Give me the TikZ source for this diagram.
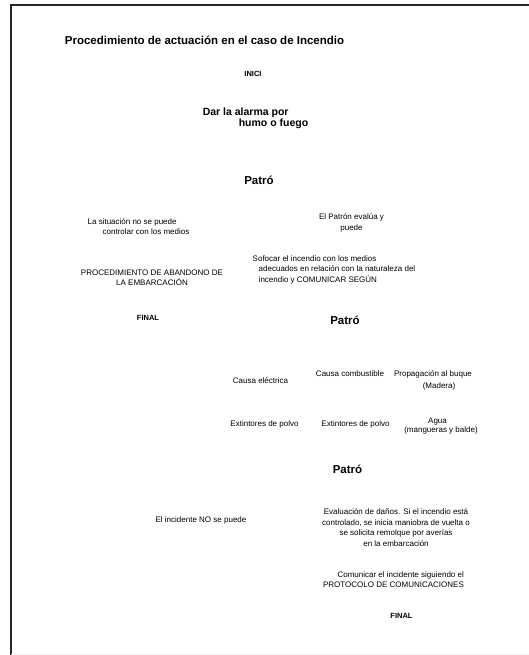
\documentclass[tikz,border=0pt]{standalone}
\usepackage{fontspec}
\setmainfont{Liberation Sans}

\begin{document}
\begin{tikzpicture}[x=1pt, y=-1pt,
	titulo/.style={font=\bfseries\fontsize{11.5}{13}\selectfont, inner sep=0pt},
	alarma/.style={font=\bfseries\fontsize{10.5}{11.5}\selectfont, inner sep=0pt},
	paso/.style={font=\fontsize{8}{10.5}\selectfont, inner sep=0pt},
	fin/.style={font=\bfseries\fontsize{7.5}{9}\selectfont, inner sep=0pt}]

	\def\W{529} % ancho de la hoja
	
	\def\H{655} % alto de la hoja
	
	\def\m{11} % margen izquierdo del marco
	
	\useasboundingbox (0, 0) rectangle (\W, \H);
	
	% marco
	\draw[line width=1.5pt, black!85] (\m, \H) -- (\m, 5) -- (\W, 5);
	\draw[gray!12] (\m, \H-1) -- (\W, \H-1);
	
	\node[titulo] (cabecera) at (204.5, 40) {Procedimiento de actuación en el caso de Incendio};
	
	\node[fin] (inici) at (253, 74) {INICI};
	
	\node[alarma, align=left] (alarma) at (255.5, 118.5) {Dar la alarma por\\\hspace*{36pt}humo o fuego};
	
	\node[titulo] (patro1) at (259, 180) {Patró};
	
	% rama izquierda
	\node[paso, align=left] (situacion) at (138.5, 226.5) {La situación no se puede\\\hspace*{15pt}controlar con los medios};
	\node[paso, align=center] (abandono) at (152, 277.5) {PROCEDIMIENTO DE ABANDONO DE\\LA EMBARCACIÓN};
	\node[fin] (final1) at (148, 318) {FINAL};
	
	% rama derecha
	\node[paso, align=center] (evalua) at (351.5, 223) {El Patrón evalúa y\\puede};
	\node[paso, align=left] (sofocar) at (334, 269.5) {Sofocar el incendio con los medios\\\hspace*{6pt}adecuados en relación con la naturaleza del\\\hspace*{6pt}incendio y COMUNICAR SEGÚN};
	
	\node[titulo] (patro2) at (345, 320) {Patró};
	
	% causas y medios
	\node[paso] (electrica) at (260.5, 381) {Causa eléctrica};
	\node[paso] (combustible) at (350, 374) {Causa combustible};
	\node[paso, align=center] (propagacion) at (433, 380.5) {Propagación al buque\\[2pt]\hspace*{12pt}(Madera)};
	
	\node[paso] (polvo1) at (264.5, 424) {Extintores de polvo};
	\node[paso] (polvo2) at (355.5, 424) {Extintores de polvo};
	\node[paso, align=center, font=\fontsize{8}{8.5}\selectfont] (agua) at (441, 426) {\hspace*{-7pt}Agua\\(mangueras y balde)};
	
	\node[titulo] (patro3) at (347.5, 469) {Patró};
	
	\node[paso] (nopuede) at (201, 520) {El incidente NO se puede};
	\node[paso, align=center] (evaluacion) at (396, 527.5) {Evaluación de daños. Si el incendio está\\controlado, se inicia maniobra de vuelta o\\se solicita remolque por averías\\en la embarcación};
	\node[paso, align=right] (comunicar) at (393.5, 579.5) {Comunicar el incidente siguiendo el\\PROTOCOLO DE COMUNICACIONES};
	
	\node[fin] (final2) at (401.5, 616) {FINAL};

\end{tikzpicture}
\end{document}
